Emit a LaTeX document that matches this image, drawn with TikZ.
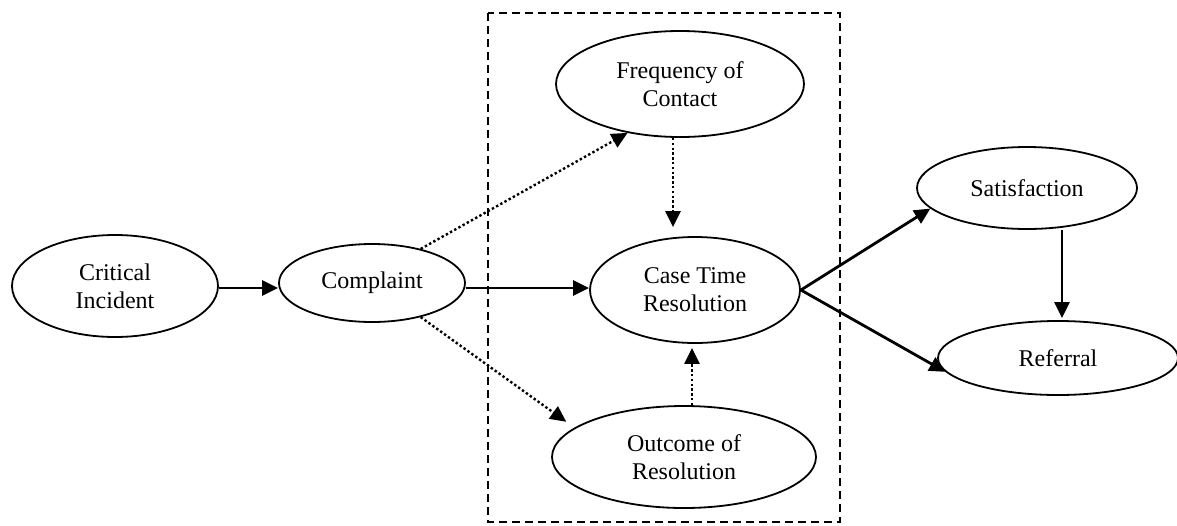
\documentclass[tikz,border=0pt]{standalone}
\usepackage{fontspec}
\setmainfont{Liberation Serif}
\usetikzlibrary{shapes.geometric,arrows.meta}
\begin{document}
\begin{tikzpicture}[x=1pt,y=-1pt,
  construct/.style={ellipse,draw,line width=1.8pt,inner sep=0pt,align=center,
    font=\fontsize{24}{28}\selectfont},
  solidarrow/.style={line width=2.8pt,-{Triangle[length=16pt,width=15pt]}},
  dotarrow/.style={line width=2.4pt,dash pattern=on 2.4pt off 2.4pt,
    -{Triangle[length=16pt,width=15pt]}},
  groupbox/.style={line width=1.8pt,dash pattern=on 8pt off 5pt}]
\useasboundingbox (0,0) rectangle (1177,525);

% grouping frame around the mediating constructs
\draw[groupbox] (488,13) rectangle (840,522);

% constructs
\node[construct,minimum width=206pt,minimum height=102pt] (ci)  at (115,286) {Critical\\Incident};
\node[construct,minimum width=186pt,minimum height=78pt]  (cmp) at (372,283) {Complaint};
\node[construct,minimum width=248pt,minimum height=106pt] (foc) at (680,84)  {Frequency of\\Contact};
\node[construct,minimum width=210pt,minimum height=106pt] (ctr) at (695,290) {Case Time\\Resolution};
\node[construct,minimum width=264pt,minimum height=102pt] (out) at (684,457) {Outcome of\\Resolution};
\node[construct,minimum width=220pt,minimum height=82pt]  (sat) at (1027,188) {Satisfaction};
\node[construct,minimum width=240pt,minimum height=74pt]  (ref) at (1058,358) {Referral};

% guide lines for straight connectors
\coordinate (ay) at (0,288);
\coordinate (fx) at (673,0);
\coordinate (ox) at (692,0);
\coordinate (sx) at (1062,0);

% main path
\draw[solidarrow] (ci.east |- ay) -- (cmp.west |- ay);
\draw[solidarrow] (cmp.east |- ay) -- (ctr.west |- ay);

% side paths through the mediators
\draw[dotarrow] (cmp.35) -- (foc.223);
\draw[dotarrow,shorten >=10pt] (cmp.-35) -- (out.165);
\draw[dotarrow,shorten >=9pt] (foc.south -| fx) -- (ctr.north -| fx);
\draw[dotarrow,shorten >=4pt] (out.north -| ox) -- (ctr.south -| ox);

% outcomes
\draw[solidarrow] (ctr.east) -- (sat.192);
\draw[solidarrow] (ctr.east) -- (ref.187);
\draw[solidarrow,shorten >=2pt] (sat.south -| sx) -- (ref.north -| sx);
\end{tikzpicture}
\end{document}
